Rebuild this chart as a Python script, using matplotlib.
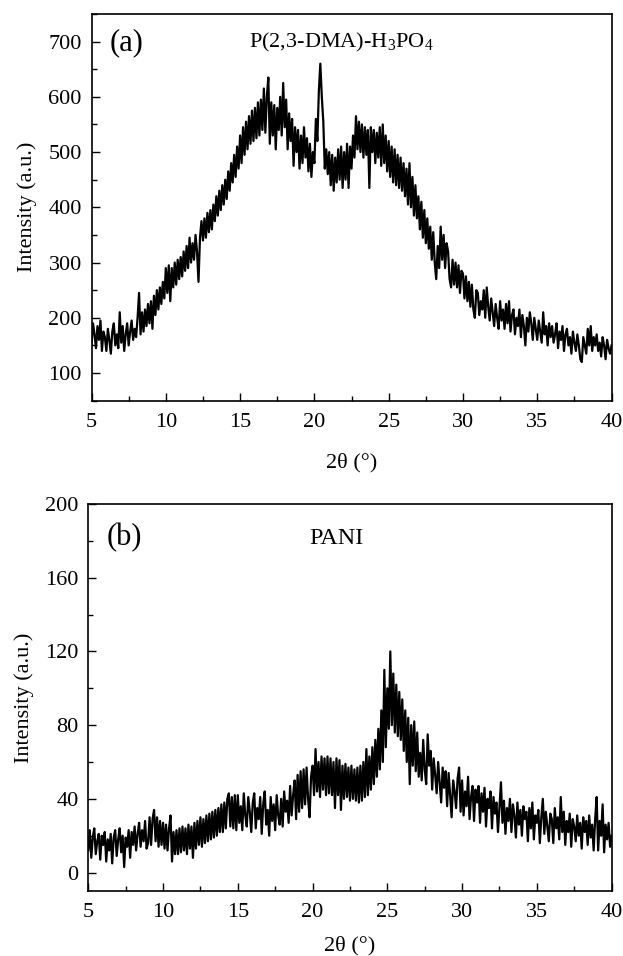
import numpy as np
import matplotlib
matplotlib.use("Agg")
import matplotlib.pyplot as plt
from matplotlib.ticker import MultipleLocator

plt.rcParams['font.family'] = ['Liberation Serif', 'DejaVu Serif']
plt.rcParams['mathtext.fontset'] = 'custom'
plt.rcParams['mathtext.rm'] = 'Liberation Serif'

# 2theta grid, 0.1 deg steps from 5 to 40
two_theta = np.round(np.arange(5.0, 40.05, 0.1), 1)

# (a) P(2,3-DMA)-H3PO4, one row per degree
intensity_a = [
    150, 190, 170, 145, 185, 160, 195, 140, 175, 165,
    140, 180, 160, 135, 175, 190, 150, 170, 145, 210,
    155, 185, 140, 170, 190, 150, 175, 195, 160, 180,
    165, 200, 245, 170, 210, 175, 215, 185, 225, 190,
    230, 180, 240, 205, 250, 215, 255, 225, 265, 235,
    290, 245, 295, 230, 290, 255, 300, 260, 305, 270,
    310, 275, 320, 285, 330, 290, 345, 300, 335, 305,
    350, 320, 265, 345, 375, 340, 380, 345, 390, 355,
    395, 360, 405, 375, 420, 385, 430, 395, 440, 405,
    450, 415, 465, 430, 480, 445, 495, 455, 510, 470,
    530, 480, 545, 495, 555, 505, 565, 515, 575, 520,
    580, 525, 590, 530, 595, 540, 615, 535, 600, 635,
    515, 590, 530, 585, 505, 580, 540, 600, 530, 625,
    545, 595, 505, 570, 520, 560, 475, 545, 500, 540,
    470, 530, 480, 545, 490, 525, 465, 515, 455, 500,
    480, 560, 520, 610, 660, 600, 555, 470, 505, 460,
    500, 440, 495, 430, 490, 445, 505, 450, 510, 435,
    500, 450, 515, 435, 510, 470, 530, 490, 565, 505,
    555, 500, 550, 490, 545, 495, 540, 435, 545, 500,
    540, 480, 535, 490, 545, 475, 550, 480, 530, 465,
    520, 455, 510, 445, 505, 440, 495, 435, 490, 430,
    480, 420, 470, 405, 480, 400, 455, 385, 440, 380,
    420, 360, 410, 345, 395, 335, 380, 325, 365, 305,
    355, 300, 270, 330, 290, 365, 305, 350, 290, 335,
    320, 270, 255, 305, 260, 300, 255, 295, 245, 285,
    280, 235, 275, 230, 265, 220, 260, 215, 200, 250,
    245, 205, 230, 215, 250, 200, 255, 220, 195, 235,
    210, 185, 225, 200, 180, 230, 195, 215, 180, 225,
    190, 230, 175, 205, 215, 170, 200, 185, 215, 165,
    205, 185, 150, 200, 175, 210, 190, 160, 200, 180,
    160, 195, 175, 155, 210, 170, 185, 150, 190, 165,
    185, 155, 170, 190, 145, 175, 160, 185, 140, 170,
    180, 150, 165, 135, 175, 155, 140, 170, 150, 125,
    120, 165, 150, 135, 180, 150, 185, 140, 165, 150,
    170, 140, 155, 130, 165, 150, 125, 160, 145, 135,
    150,
]

# (b) PANI
intensity_b = [
    12, 23, 8, 19, 24, 10, 17, 21, 7, 20,
    15, 22, 6, 18, 12, 21, 5, 19, 23, 9,
    18, 24, 11, 20, 3, 19, 14, 23, 8, 22,
    15, 25, 12, 21, 27, 14, 23, 17, 28, 13,
    16, 30, 15, 29, 34, 17, 30, 14, 28, 15,
    27, 13, 26, 12, 24, 31, 6, 22, 10, 23,
    10, 24, 11, 25, 12, 24, 10, 26, 13, 25,
    8, 27, 13, 28, 15, 30, 14, 29, 16, 31,
    17, 32, 18, 33, 19, 34, 20, 35, 22, 37,
    22, 38, 24, 40, 43, 25, 41, 24, 42, 23,
    42, 27, 36, 23, 43, 31, 25, 41, 33, 22,
    38, 43, 24, 35, 29, 41, 21, 37, 44, 26,
    34, 20, 41, 28, 37, 23, 42, 31, 26, 40,
    25, 44, 33, 39, 27, 47, 31, 42, 50, 29,
    53, 33, 55, 35, 56, 37, 57, 40, 30, 52,
    58, 42, 67, 44, 60, 41, 63, 45, 62, 42,
    63, 43, 62, 42, 60, 35, 62, 42, 61, 34,
    58, 40, 59, 41, 57, 39, 58, 40, 56, 39,
    57, 38, 58, 39, 60, 41, 67, 42, 63, 45,
    68, 48, 72, 52, 78, 56, 88, 60, 110, 68,
    100, 78, 120, 80, 108, 76, 102, 74, 98, 72,
    94, 66, 88, 60, 84, 48, 80, 58, 82, 55,
    76, 52, 65, 50, 72, 56, 48, 75, 58, 66,
    45, 62, 53, 43, 60, 49, 38, 57, 46, 55,
    36, 54, 42, 30, 50, 44, 35, 51, 57, 33,
    50, 31, 44, 36, 52, 29, 41, 47, 28, 45,
    38, 47, 27, 43, 33, 46, 25, 40, 35, 44,
    24, 41, 32, 38, 22, 36, 49, 27, 39, 21,
    35, 28, 40, 22, 37, 31, 19, 38, 26, 34,
    20, 36, 29, 33, 17, 35, 24, 38, 18, 31,
    27, 34, 16, 30, 40, 21, 33, 25, 17, 32,
    29, 16, 35, 24, 30, 18, 41, 22, 33, 15,
    28, 22, 32, 14, 29, 25, 17, 31, 20, 27,
    13, 30, 22, 28, 15, 31, 19, 26, 12, 29,
    41, 12, 28, 20, 37, 11, 26, 18, 27, 14,
    20,
]

fig = plt.figure(figsize=(6.23, 9.56), dpi=100)
ax_a = fig.add_axes([0.1469, 0.5809, 0.8347, 0.4045])
ax_b = fig.add_axes([0.1417, 0.0680, 0.8400, 0.4048])

panels = [
    (ax_a, intensity_a, (50, 750), 100, 50, '(a)', 'P(2,3-DMA)-H$_3$PO$_4$',
     0.48, 0.925, 16, 15),
    (ax_b, intensity_b, (-10, 200), 40, 20, '(b)', 'PANI',
     0.475, 0.912, 17.5, 10),
]

for ax, y, ylim, major, minor, tag, name, name_x, text_y, name_fs, xpad in panels:
    ax.plot(two_theta, y, color='black', lw=1.6)
    ax.set_xlim(5, 40)
    ax.set_ylim(*ylim)
    ax.xaxis.set_major_locator(MultipleLocator(5))
    ax.xaxis.set_minor_locator(MultipleLocator(2.5))
    ax.yaxis.set_major_locator(MultipleLocator(major))
    ax.yaxis.set_minor_locator(MultipleLocator(minor))
    ax.tick_params(which='both', direction='in', top=False, right=False,
                   labelsize=16)
    ax.tick_params(axis='x', pad=9)
    ax.tick_params(axis='y', pad=7)
    ax.tick_params(which='major', length=6, width=1)
    ax.tick_params(which='minor', length=3.5, width=1)
    for s in ax.spines.values():
        s.set_linewidth(1.2)
    ax.set_xlabel('2θ (°)', fontsize=16, labelpad=xpad)
    ax.set_ylabel('Intensity (a.u.)', fontsize=16, labelpad=8)
    ax.text(0.035, text_y, tag, transform=ax.transAxes, fontsize=22,
            va='center', ha='left')
    ax.text(name_x, text_y, name, transform=ax.transAxes, fontsize=name_fs,
            va='center', ha='center')

fig.savefig('out.png', dpi=100)
